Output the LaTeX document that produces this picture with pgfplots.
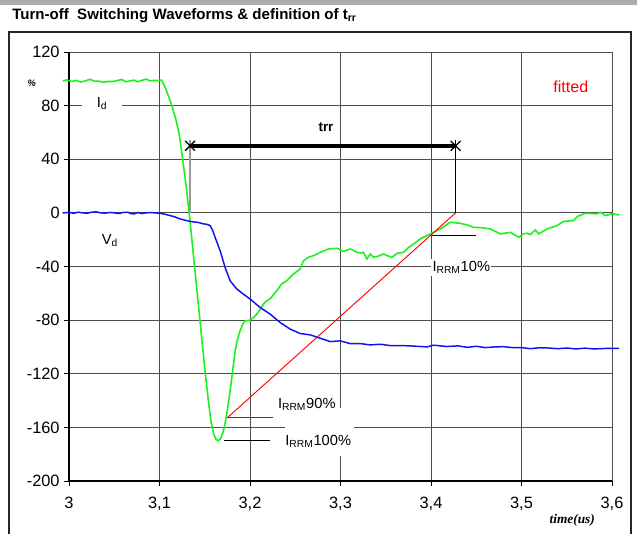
\documentclass[border=0pt]{standalone}
\usepackage{fontspec}
\setmainfont{Liberation Sans}
\newfontfamily\timesfont{Liberation Serif}
\usepackage{pgfplots}
\pgfplotsset{compat=1.18}
\definecolor{idgreen}{HTML}{1FF01F}
\definecolor{vdblue}{HTML}{1010F0}
\definecolor{purp}{HTML}{8A108A}

\pgfplotstableread{
x y
2.993 98.5
2.998 99.2
3.003 98.0
3.008 98.8
3.013 97.6
3.018 98.4
3.023 99.6
3.028 98.3
3.033 98.2
3.038 97.5
3.043 98.0
3.048 98.0
3.053 98.6
3.058 99.5
3.063 97.8
3.068 98.5
3.072 99.0
3.076 97.8
3.080 98.7
3.085 99.8
3.089 98.6
3.093 98.7
3.098 98.8
3.1025 99.0
3.106 94
3.110 87
3.114 79
3.118 70
3.122 58
3.126 38
3.130 17
3.134 -8
3.138 -35
3.142 -62
3.146 -89
3.150 -116
3.154 -140
3.157 -156
3.160 -165
3.1625 -169
3.165 -170
3.1677 -168
3.170 -164
3.1725 -157
3.175 -147
3.178 -133
3.181 -117
3.1836 -103
3.186 -95
3.189 -88
3.192 -83
3.1946 -80.6
3.2002 -80
3.204 -78
3.2075 -75.5
3.2112 -72
3.2149 -68
3.2186 -65.6
3.2223 -64
3.2259 -61
3.2296 -58
3.235 -53
3.2407 -50.6
3.248 -45.6
3.2554 -41.9
3.2591 -35.7
3.265 -33
3.2702 -31.9
3.2776 -29.4
3.2868 -26.9
3.296 -26.4
3.3033 -28.7
3.3107 -26.9
3.3181 -29.4
3.3225 -30
3.3254 -29.4
3.3291 -34.4
3.3329 -30.7
3.3365 -33
3.3402 -32.7
3.3476 -30.7
3.352 -32
3.3568 -33.2
3.3623 -30.2
3.3697 -29.4
3.375 -26
3.3808 -23.2
3.3881 -19.4
3.3992 -15.7
3.4103 -12
3.4213 -7
3.4324 -7.8
3.44 -9
3.4471 -10.8
3.455 -11
3.4656 -12
3.4766 -15.7
3.4877 -14.5
3.4969 -18.2
3.5025 -15.5
3.5061 -15.2
3.5098 -16.2
3.5153 -12.7
3.519 -15.7
3.5282 -12
3.5393 -9.5
3.5467 -6.3
3.5577 -5.8
3.5614 -2.8
3.5706 -0.3
3.5835 -0.7
3.5872 0.5
3.5927 -2
3.6001 -0.7
3.6082 -1.5
}\idtable

\pgfplotstableread{
x y
2.993 0
3.000 0.3
3.005 -0.3
3.010 0.5
3.015 0
3.020 -0.3
3.025 0.5
3.030 0.8
3.035 0
3.040 -0.2
3.045 0.3
3.050 0
3.055 -0.5
3.060 0.3
3.065 0.5
3.068 -0.5
3.072 -0.8
3.076 0.3
3.080 -0.5
3.085 0
3.090 0.2
3.095 0
3.1006 -0.3
3.106 -1
3.1117 -2
3.117 -3
3.1227 -4.5
3.1301 -5.8
3.1338 -6.3
3.138 -6.8
3.1412 -7
3.1449 -7.5
3.1485 -8.2
3.152 -8.5
3.156 -9.5
3.1587 -13
3.1614 -18.2
3.167 -28.2
3.1725 -40.7
3.178 -50.6
3.1854 -56.8
3.1927 -60.6
3.2002 -64.3
3.2112 -70.6
3.2223 -75.5
3.2333 -81.8
3.2444 -86.7
3.2554 -90
3.2665 -91
3.2776 -93.5
3.2886 -96
3.2997 -95.5
3.3107 -97.5
3.3218 -97.5
3.3329 -98.5
3.3439 -98
3.355 -99
3.366 -99
3.3771 -99.2
3.3955 -100
3.4029 -98.7
3.4177 -99.7
3.43 -99.2
3.44 -100.3
3.45 -99.5
3.46 -100.5
3.47 -100
3.48 -99.8
3.49 -100.5
3.50 -100.5
3.51 -101.3
3.52 -100.6
3.53 -100.8
3.54 -101.3
3.55 -100.8
3.56 -101.5
3.57 -100.9
3.58 -101.5
3.59 -101.2
3.60 -101.0
3.608 -101
}\vdtable

\begin{document}
\begin{tikzpicture}
\begin{scope}[x=0.75pt,y=-0.75pt]
\useasboundingbox (0,0) rectangle (637,534);
\fill[gray!65] (0,0) rectangle (637,5);
\node[anchor=base west, inner sep=0, font=\fontsize{11.3}{13}\selectfont\bfseries] at (12,19.5) {Turn-off\ \ Switching Waveforms \& definition of t\textsubscript{rr}};
\draw[black!85, line width=1.4pt] (9,540) -- (9,32) -- (631,32) -- (631,540);
\end{scope}
\begin{axis}[
  scale only axis, width=407.25pt, height=321.75pt,
  at={(51.75pt,-360.75pt)}, anchor=south west,
  xmin=3, xmax=3.6, ymin=-200, ymax=120,
  xtick={3,3.1,3.2,3.3,3.4,3.5,3.6},
  ytick={-200,-160,-120,-80,-40,0,40,80,120},
  axis lines=left, axis line style={-, black, line width=0.8pt},
  tick align=outside, major tick length=3.5pt,
  tick style={black, line width=0.6pt},
  grid=major, grid style={black!70, line width=0.6pt},
  /pgf/number format/assume math mode=true,
  xticklabel style={yshift=-5pt, /pgf/number format/.cd, use comma, fixed, precision=1},
  ticklabel style={font=\fontsize{12.3}{14}\selectfont},
  clip=false,
]
\node[fill=white, inner sep=0pt, minimum width=51.75pt, minimum height=36pt] at (axis cs:3.277,-163.5) {};
\node[fill=white, minimum width=30pt, inner ysep=2pt, font=\fontsize{11}{13}\selectfont] at (axis cs:3.0365,81.7) {I\textsubscript{d}};
\node[font=\fontsize{11}{13}\selectfont] at (axis cs:3.0453,-20.8) {V\textsubscript{d}};
\node[fill=white, inner xsep=1pt, inner ysep=2pt, font=\fontsize{11}{13}\selectfont] at (axis cs:3.4335,-40.7) {I\textsubscript{RRM}10\%};
\node[font=\fontsize{11}{13}\selectfont] at (axis cs:3.2628,-142.8) {I\textsubscript{RRM}90\%};
\node[font=\fontsize{11}{13}\selectfont] at (axis cs:3.2754,-170.3) {I\textsubscript{RRM}100\%};
\node[font=\fontsize{10}{12}\selectfont\bfseries] at (axis cs:3.284,64) {trr};
\node[text=red, font=\fontsize{12}{14}\selectfont] at (axis cs:3.5545,93.9) {fitted};
\node[font=\fontsize{7}{8}\selectfont\bfseries\itshape] at (axis cs:2.959,96.9) {\%};
\node[font=\fontsize{10}{12}\selectfont\timesfont\bfseries\itshape] at (axis cs:3.5561,-229.0) {time(us)};

\addplot[gray!80, line width=1.1pt] coordinates {(3.1338,54) (3.1338,0)};
\addplot[black, line width=0.6pt] coordinates {(3.4272,54) (3.4272,0)};
\addplot[black, line width=2.6pt, mark=x, mark size=5.2pt, mark options={line width=1pt}] coordinates {(3.1338,50) (3.4272,50)};

\addplot[idgreen, line width=1.2pt] table[x=x,y=y] {\idtable};
\addplot[vdblue, line width=1.1pt] table[x=x,y=y] {\vdtable};

\addplot[red, line width=0.7pt] coordinates {(3.175,-152.8) (3.4272,0)};
\addplot[purp, line width=1pt] coordinates {(3.175,-152.8) (3.2256,-152.8)};
\addplot[black, line width=1pt] coordinates {(3.171,-169.7) (3.222,-169.7)};
\addplot[black, line width=1pt] coordinates {(3.401,-17) (3.450,-17)};
\end{axis}
\end{tikzpicture}
\end{document}
